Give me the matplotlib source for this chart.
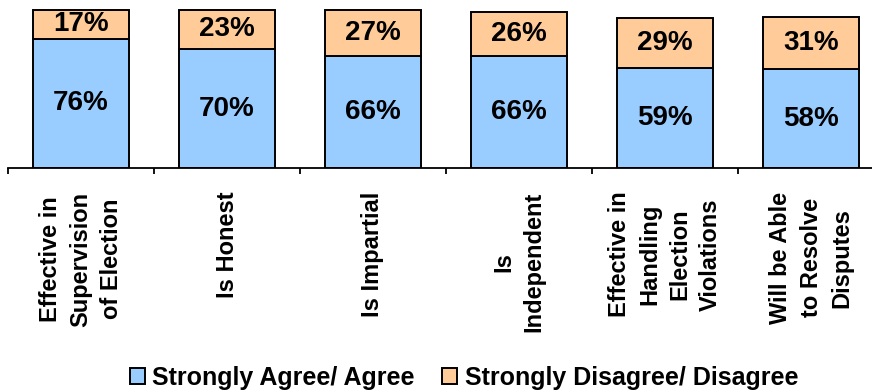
import matplotlib.pyplot as plt

# survey results per statement (percent)
categories = ["Effective in\nSupervision\nof Election", "Is Honest", "Is Impartial",
              "Is\nIndependent", "Effective in\nHandling\nElection\nViolations",
              "Will be Able\nto Resolve\nDisputes"]
agree = [76, 70, 66, 66, 59, 58]
disagree = [17, 23, 27, 26, 29, 31]

blue = "#99CCFF"
peach = "#FFCC99"

plt.rcParams["font.family"] = ["Liberation Sans", "DejaVu Sans"]
plt.rcParams["font.weight"] = "bold"

fig = plt.figure(figsize=(8.72, 3.92), dpi=100)
# axis line sits at y=168 px, plot runs a bit past the right edge
ax = fig.add_axes([8 / 872, 224 / 392, 876 / 872, 170 / 392])

x = list(range(len(categories)))
b1 = ax.bar(x, agree, width=0.66, color=blue, edgecolor="black", linewidth=1.4,
            label="Strongly Agree/ Agree")
b2 = ax.bar(x, disagree, width=0.66, bottom=agree, color=peach, edgecolor="black",
            linewidth=1.4, label="Strongly Disagree/ Disagree")

for i in x:
    ax.text(i, agree[i] / 2, f"{agree[i]}%", ha="center", va="center",
            fontsize=20, fontweight="bold")
    ax.text(i, agree[i] + disagree[i] / 2, f"{disagree[i]}%", ha="center",
            va="center", fontsize=20, fontweight="bold")
    ax.annotate(categories[i], xy=(i, 0), xycoords=("data", "axes fraction"),
                xytext=(0, -17), textcoords="offset points", rotation=90,
                ha="center", va="top", multialignment="center",
                fontsize=17, fontweight="bold", linespacing=1.42)

ax.set_xlim(-0.5, 5.5)
ax.set_ylim(0, 100)
for s in ["left", "right", "top"]:
    ax.spines[s].set_visible(False)
ax.spines["bottom"].set_linewidth(1.3)
ax.set_yticks([])
ax.set_xticks([i - 0.5 for i in range(len(categories) + 1)])
ax.set_xticklabels([])
ax.tick_params(axis="x", direction="out", length=4, width=1.3)

fig.legend(handles=[b1, b2], loc="center", bbox_to_anchor=(464 / 872, 14 / 392),
           ncol=2, frameon=False, fontsize=18, handlelength=0.6, handleheight=0.6,
           handletextpad=0.3, columnspacing=1.1, borderpad=0)

fig.savefig("out.png", dpi=100)
